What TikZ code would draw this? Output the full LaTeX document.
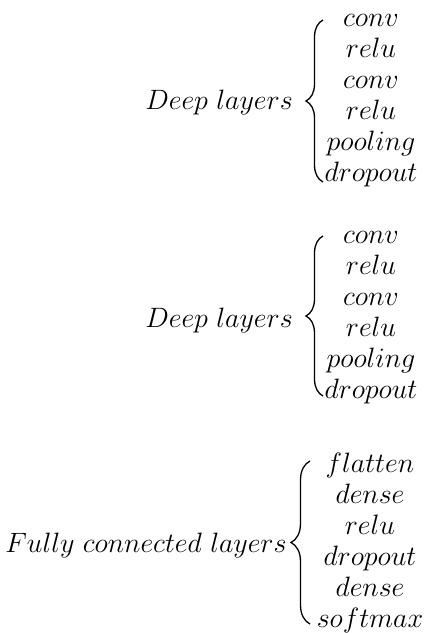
\documentclass[tikz,border=0pt]{standalone}
\usepackage{fix-cm}
\usepackage{amsmath}
\usepackage{tikz}
\usetikzlibrary{positioning,decorations.pathreplacing}

\begin{document}
\begin{tikzpicture}[
   x=1pt,y=1pt,
   group/.style={inner sep=0pt,anchor=base east,font=\fontsize{28}{31}\selectfont},
   stack/.style={inner sep=0pt,font=\fontsize{28}{31}\selectfont},
   curly/.style={decorate,decoration={brace,amplitude=17pt},line width=1.3pt},
   every node/.style={auto}]
\useasboundingbox (0,0) rectangle (425,633);
% first block of deep layers
\node[group] (deep1) at (293,523) {$Deep\ layers$};
\node[stack] (list1) at (371,535) {$\begin{array}{@{}c@{}}conv\\relu\\conv\\relu\\pooling\\dropout\end{array}$};
\coordinate (b1top) at (323,613);
\coordinate (b1bot) at (323,451);
\draw[curly] (b1bot) -- (b1top);
% second block of deep layers
\node[group] (deep2) at (293,305) {$Deep\ layers$};
\node[stack] (list2) at (371,318) {$\begin{array}{@{}c@{}}conv\\relu\\conv\\relu\\pooling\\dropout\end{array}$};
\coordinate (b2top) at (323,397);
\coordinate (b2bot) at (323,237);
\draw[curly] (b2bot) -- (b2top);
% fully connected part
\node[group] (dense) at (287,81) {$Fully\ connected\ layers$};
\node[stack] (list3) at (370,89) {$\begin{array}{@{}c@{}}flatten\\dense\\relu\\dropout\\dense\\softmax\end{array}$};
\coordinate (b3top) at (310,172);
\coordinate (b3bot) at (310,9);
\draw[curly,decoration={amplitude=19pt}] (b3bot) -- (b3top);
\end{tikzpicture}
\end{document}
